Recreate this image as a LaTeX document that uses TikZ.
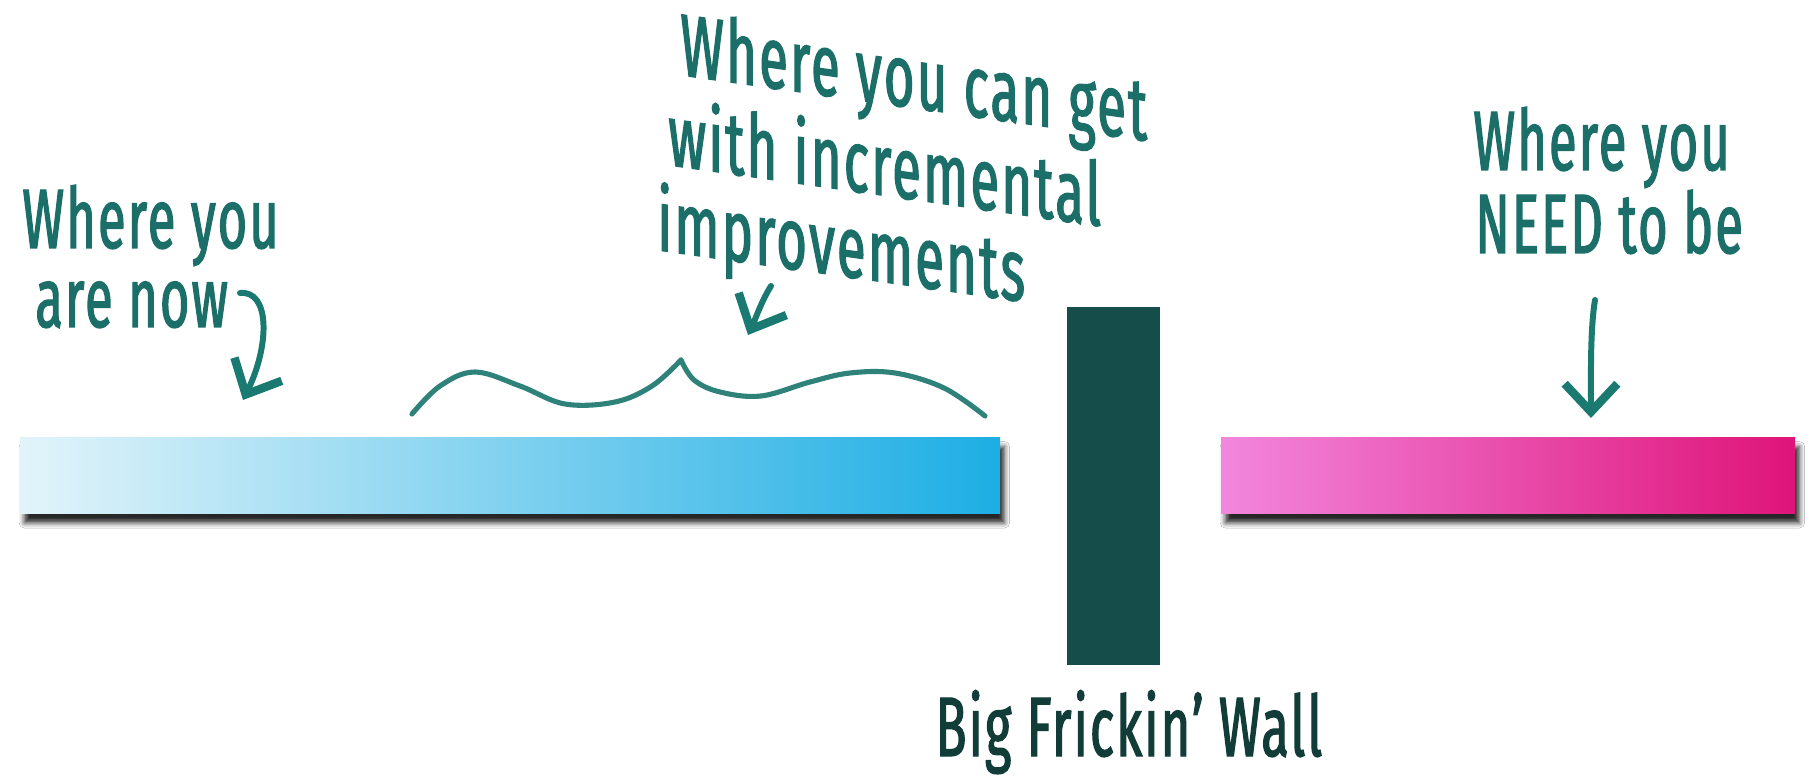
\documentclass[tikz,border=0pt]{standalone}
\usepackage{fontspec}
\setmainfont{Fira Sans}[FakeStretch=0.6, FakeBold=1.5, LetterSpace=2.5]
\usetikzlibrary{arrows.meta,shadows.blur}
\definecolor{textteal}{HTML}{1B6F68}
\definecolor{arrowteal}{HTML}{1A7A72}
\definecolor{wallcol}{HTML}{154D4A}
\definecolor{walltext}{HTML}{113C38}
\definecolor{bracecol}{HTML}{2E827A}
\definecolor{blueL}{HTML}{E2F4FA}
\definecolor{blueR}{HTML}{1DAEE4}
\definecolor{pinkL}{HTML}{F286DD}
\definecolor{pinkR}{HTML}{DF1479}
\tikzset{
  hand/.style={font=\fontsize{48}{50}\selectfont, text=textteal, inner sep=0pt, anchor=base west},
  arrowline/.style={draw=arrowteal, line width=3.4pt, line cap=round,
    -{Straight Barb[length=16pt,width=30pt,line width=4.8pt]}},
  bracestyle/.style={draw=bracecol, line width=2.9pt, line cap=round, line join=round},
  barshadow/.style={blur shadow={shadow xshift=2.5pt, shadow yshift=-5pt, shadow blur radius=3pt, shadow opacity=85}}
}
\begin{document}
\begin{tikzpicture}[x=0.02cm,y=-0.02cm]
\useasboundingbox (0,0) rectangle (1810,780);
\fill[white] (0,0) rectangle (1810,780);

% bars
\path[barshadow, left color=blueL, right color=blueR] (20,438) rectangle (1000,514);
\path[barshadow, left color=pinkL, right color=pinkR] (1221,438) rectangle (1795,514);

% wall
\fill[wallcol] (1067,307) rectangle (1160,665);
\node[hand, anchor=base, text=walltext] (wallT) at (1129,756) {Big Frickin' Wall};

% left text and arrow
\node[hand] (nowA) at (22,248) {Where you};
\node[hand] (nowB) at (35,327) {are now};
\coordinate (nowS) at (240,293);
\coordinate (nowE) at (243,400);
\draw[arrowline] (nowS) .. controls (270,290) and (270,345) .. (nowE);

% middle text, arrow, brace
\node[hand, yslant=-0.141, font=\fontsize{50}{52}\selectfont] (incA) at (680,75) {Where you can get};
\node[hand, yslant=-0.141, font=\fontsize{50}{52}\selectfont] (incB) at (668,165) {with incremental};
\node[hand, yslant=-0.141, font=\fontsize{50}{52}\selectfont] (incC) at (657,250) {improvements};
\coordinate (incS) at (771,286);
\coordinate (incE) at (748,335);
\draw[arrowline] (incS) .. controls (762,300) and (755,320) .. (incE);

\draw[bracestyle] plot[smooth, tension=0.6] coordinates {(412,414) (440,386) (475,372) (520,386) (565,404) (615,402) (652,386) (681,360)};
\draw[bracestyle] plot[smooth, tension=0.6] coordinates {(681,360) (694,380) (720,392) (761,396) (810,382) (850,373) (895,373) (944,388) (985,416)};

% right text and arrow
\node[hand] (needA) at (1473,170) {Where you};
\node[hand] (needB) at (1475,253) {NEED to be};
\coordinate (needS) at (1595,300);
\coordinate (needE) at (1591,418);
\draw[arrowline] (needS) .. controls (1590,330) and (1591,380) .. (needE);
\end{tikzpicture}
\end{document}
